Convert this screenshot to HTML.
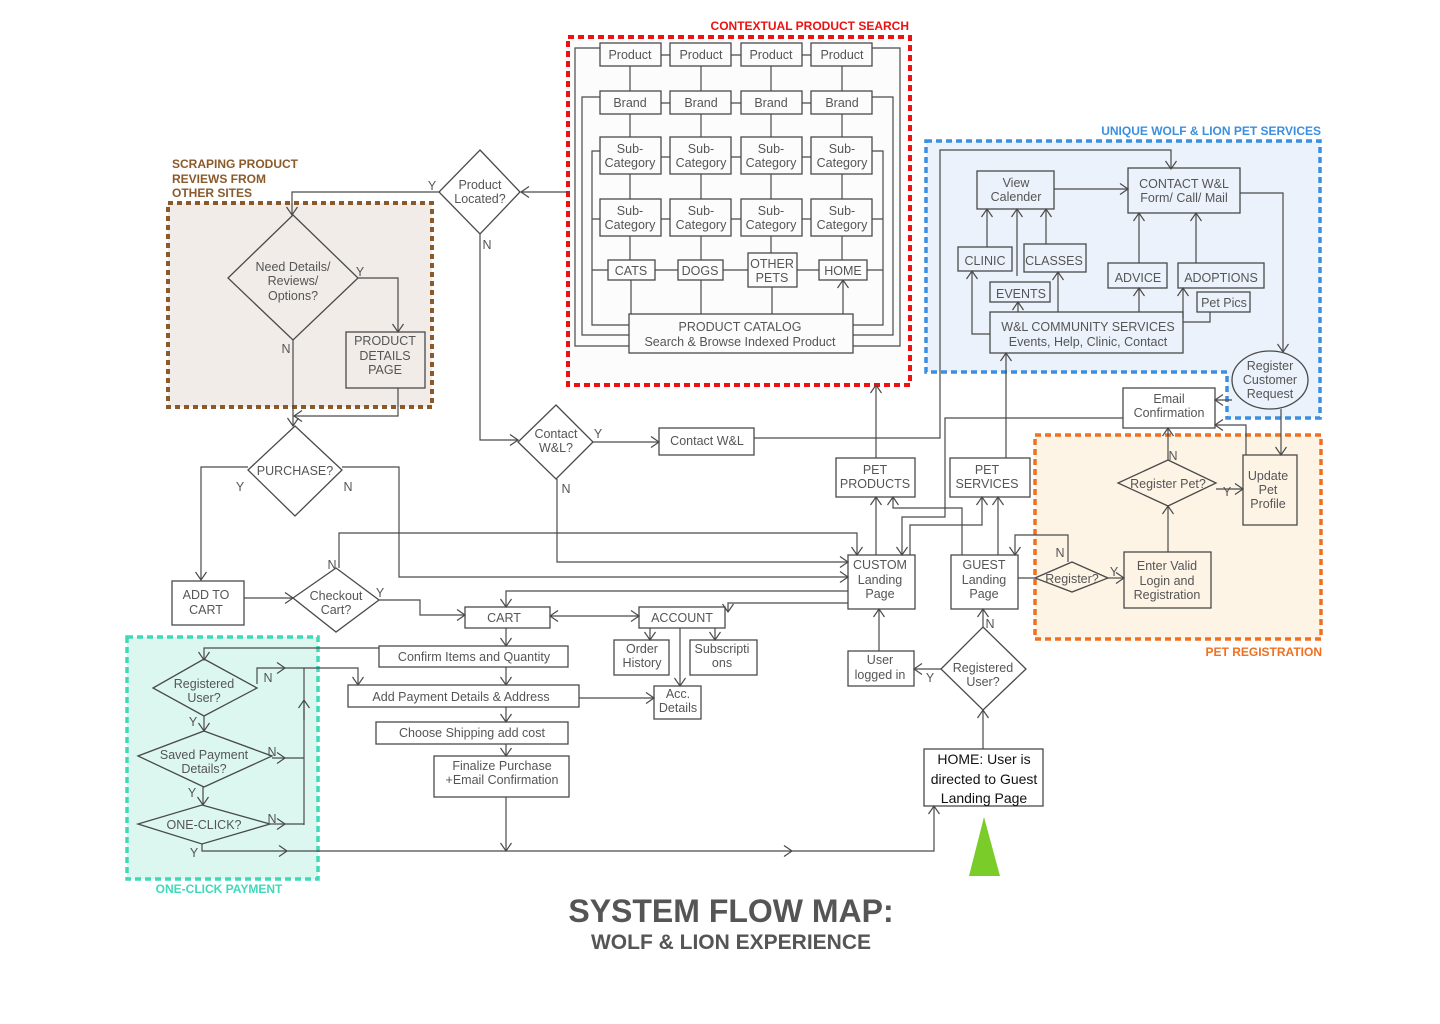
<!DOCTYPE html>
<html><head><meta charset="utf-8"><style>
html,body{margin:0;padding:0;background:#fff;}
svg{display:block;font-family:"Liberation Sans",sans-serif;}
.l{fill:none;stroke:#4a4a4a;stroke-width:1.2;}
.b{fill:none;stroke:#4a4a4a;stroke-width:1.3;}
.a{marker-end:url(#ar);}
text{fill:#555;font-size:12.5px;text-anchor:middle;}
.lab{font-weight:bold;font-size:12px;text-anchor:start;}
</style></head><body>
<svg width="1440" height="1024" viewBox="0 0 1440 1024" xmlns="http://www.w3.org/2000/svg">
<defs><marker id="ar" markerUnits="userSpaceOnUse" markerWidth="14" markerHeight="14" refX="9" refY="6" orient="auto"><path d="M1,0.5 L9,6 L1,11.5" fill="none" stroke="#4a4a4a" stroke-width="1.2"/></marker></defs>

<!-- region boxes -->
<rect x="568" y="37" width="342" height="348" fill="#fdfcfc" stroke="#ee1111" stroke-width="4" stroke-dasharray="6,4"/>
<text x="909" y="30" style="fill:#ee1111;font-weight:bold;font-size:12px;text-anchor:end">CONTEXTUAL PRODUCT SEARCH</text>
<rect x="168" y="203" width="264" height="204" fill="#f1ece8" stroke="#8b5a2b" stroke-width="4" stroke-dasharray="5,4"/>
<text class="lab" x="172" y="168" style="fill:#8b5a2b">SCRAPING PRODUCT</text>
<text class="lab" x="172" y="183" style="fill:#8b5a2b">REVIEWS FROM</text>
<text class="lab" x="172" y="197" style="fill:#8b5a2b">OTHER SITES</text>
<path d="M926,141 H1320 V418 H1227 V372 H926 Z" fill="#ecf2fb" stroke="#3b8fe0" stroke-width="3.5" stroke-dasharray="6,4"/>
<text x="1321" y="135" style="fill:#3b8fe0;font-weight:bold;font-size:12px;text-anchor:end">UNIQUE WOLF &amp; LION PET SERVICES</text>
<rect x="1035" y="435" width="286" height="204" fill="#fdf4e6" stroke="#f07020" stroke-width="3.5" stroke-dasharray="6,4"/>
<text x="1322" y="656" style="fill:#f07020;font-weight:bold;font-size:12px;text-anchor:end">PET REGISTRATION</text>
<rect x="127" y="637" width="191" height="242" fill="#dcf7f0" stroke="#3fd9b8" stroke-width="3.5" stroke-dasharray="6,4"/>
<text x="219" y="893" style="fill:#3fd9b8;font-weight:bold;font-size:12px">ONE-CLICK PAYMENT</text>

<!-- product search grid -->
<g>
<path class="l" d="M600,48 H575 V346 H629 M600,97 H582 V335 H629 M600,151 H592 V325 H629 M592,219 H600 M592,270 H608"/>
<path class="l" d="M872,48 H900 V346 H853 M872,97 H893 V335 H853 M872,151 H883 V325 H853 M883,219 H872 M883,270 H867"/>
<path class="l" d="M661,55 H670 M731,55 H741 M802,55 H811 M661,103 H670 M731,103 H741 M802,103 H811 M661,157 H670 M731,157 H741 M802,157 H811 M661,219 H670 M731,219 H741 M802,219 H811 M655,270 H678 M723,270 H748 M797,270 H819"/>
<path class="l a" d="M630,91 V66 M701,91 V66 M771,91 V66 M842,91 V66 M630,137 V114 M701,137 V114 M771,137 V114 M842,137 V114 M630,199 V174 M701,199 V174 M771,199 V174 M842,199 V174 M630,260 V236 M701,260 V236 M771,253 V236 M842,260 V236 M631,314 V280 M701,314 V280 M772,314 V287 M843,314 V280"/>
<g class="b" fill="#fdfcfc">
<rect x="600" y="43" width="61" height="23" fill="#fdfcfc"/><rect x="670" y="43" width="61" height="23" fill="#fdfcfc"/><rect x="741" y="43" width="61" height="23" fill="#fdfcfc"/><rect x="811" y="43" width="61" height="23" fill="#fdfcfc"/>
<rect x="600" y="91" width="61" height="23" fill="#fdfcfc"/><rect x="670" y="91" width="61" height="23" fill="#fdfcfc"/><rect x="741" y="91" width="61" height="23" fill="#fdfcfc"/><rect x="811" y="91" width="61" height="23" fill="#fdfcfc"/>
<rect x="600" y="137" width="61" height="37" fill="#fdfcfc"/><rect x="670" y="137" width="61" height="37" fill="#fdfcfc"/><rect x="741" y="137" width="61" height="37" fill="#fdfcfc"/><rect x="811" y="137" width="61" height="37" fill="#fdfcfc"/>
<rect x="600" y="199" width="61" height="37" fill="#fdfcfc"/><rect x="670" y="199" width="61" height="37" fill="#fdfcfc"/><rect x="741" y="199" width="61" height="37" fill="#fdfcfc"/><rect x="811" y="199" width="61" height="37" fill="#fdfcfc"/>
<rect x="608" y="260" width="47" height="20" fill="#fdfcfc"/><rect x="678" y="260" width="45" height="20" fill="#fdfcfc"/><rect x="748" y="253" width="49" height="34" fill="#fdfcfc"/><rect x="819" y="260" width="48" height="20" fill="#fdfcfc"/>
<rect x="629" y="314" width="224" height="39" fill="#fdfcfc"/>
</g>
<text x="630" y="59">Product</text><text x="701" y="59">Product</text><text x="771" y="59">Product</text><text x="842" y="59">Product</text>
<text x="630" y="107">Brand</text><text x="701" y="107">Brand</text><text x="771" y="107">Brand</text><text x="842" y="107">Brand</text>
<text x="630" y="153">Sub-</text><text x="630" y="167">Category</text><text x="701" y="153">Sub-</text><text x="701" y="167">Category</text><text x="771" y="153">Sub-</text><text x="771" y="167">Category</text><text x="842" y="153">Sub-</text><text x="842" y="167">Category</text>
<text x="630" y="215">Sub-</text><text x="630" y="229">Category</text><text x="701" y="215">Sub-</text><text x="701" y="229">Category</text><text x="771" y="215">Sub-</text><text x="771" y="229">Category</text><text x="842" y="215">Sub-</text><text x="842" y="229">Category</text>
<text x="631" y="275">CATS</text><text x="700" y="275">DOGS</text><text x="772" y="268">OTHER</text><text x="772" y="282">PETS</text><text x="843" y="275">HOME</text>
<text x="740" y="331">PRODUCT CATALOG</text><text x="740" y="346">Search &amp; Browse Indexed Product</text>
</g>

<!-- left top flow -->
<path class="l a" d="M568,192 H521"/>
<path class="l a" d="M439,192 H292 V215"/>
<path class="l a" d="M480,234 V440 H518"/>
<polygon class="b" points="480,150 520,192 480,234 439,192" fill="#fff"/>
<text x="480" y="189">Product</text><text x="480" y="203">Located?</text>
<text x="432" y="190">Y</text><text x="487" y="249">N</text>

<path class="l a" d="M358,278 H398 V332"/>
<path class="l a" d="M293,340 V426"/>
<path class="l a" d="M398,388 V416 H294"/>
<polygon class="b" points="293,215 358,278 293,340 228,278"/>
<text x="293" y="271">Need Details/</text><text x="293" y="285">Reviews/</text><text x="293" y="300">Options?</text>
<text x="360" y="276">Y</text><text x="286" y="353">N</text>
<rect class="b" x="346" y="332" width="79" height="56"/>
<text x="385" y="345">PRODUCT</text><text x="385" y="360">DETAILS</text><text x="385" y="374">PAGE</text>

<path class="l a" d="M248,467 H201 V580"/>
<path class="l a" d="M342,467 H399 V577 H848"/>
<polygon class="b" points="295,426 342,470 295,516 248,470" fill="#fff"/>
<text x="295" y="475">PURCHASE?</text><text x="240" y="491">Y</text><text x="348" y="491">N</text>

<rect class="b" x="172" y="581" width="72" height="44"/>
<text x="206" y="599">ADD TO</text><text x="206" y="614">CART</text>
<path class="l a" d="M244,598 H293"/>
<path class="l a" d="M379,600 H420 V615 H465"/>
<path class="l a" d="M339,568 V533 H857 V555"/>
<polygon class="b" points="336,568 379,600 336,632 293,598" fill="#fff"/>
<text x="336" y="600">Checkout</text><text x="336" y="614">Cart?</text>
<text x="380" y="597">Y</text><text x="332" y="569">N</text>

<path class="l a" d="M593,442 H659"/>
<path class="l a" d="M557,479 V562 H848"/>
<polygon class="b" points="556,405 593,442 556,479 518,442" fill="#fff"/>
<text x="556" y="438">Contact</text><text x="556" y="452">W&amp;L?</text>
<text x="598" y="438">Y</text><text x="566" y="493">N</text>
<rect class="b" x="659" y="428" width="95" height="27"/>
<text x="707" y="445">Contact W&amp;L</text>
<path class="l a" d="M754,438 H940 V150 H1171 V169"/>

<!-- cart / checkout -->
<path class="l a" d="M848,591 H506 V607"/>
<path class="l a" d="M848,603 H728 V612"/>
<path class="l a" d="M594,616 H550"/><path class="l a" d="M594,616 H639"/>
<rect class="b" x="465" y="607" width="85" height="21" fill="#fff"/><text x="504" y="622">CART</text>
<rect class="b" x="639" y="607" width="86" height="21" fill="#fff"/><text x="682" y="622">ACCOUNT</text>
<path class="l a" d="M650,628 V640"/><path class="l a" d="M715,628 V640"/><path class="l a" d="M680,628 V686"/>
<rect class="b" x="614" y="640" width="55" height="35" fill="#fff"/><text x="642" y="653">Order</text><text x="642" y="667">History</text>
<rect class="b" x="690" y="640" width="67" height="35" fill="#fff"/><text x="722" y="653">Subscripti</text><text x="722" y="667">ons</text>
<rect class="b" x="654" y="686" width="47" height="33" fill="#fff"/><text x="678" y="698">Acc.</text><text x="678" y="712">Details</text>
<path class="l a" d="M506,628 V646"/><path class="l a" d="M506,667 V685"/><path class="l a" d="M506,707 V722"/><path class="l a" d="M506,744 V756"/><path class="l a" d="M506,797 V851"/>
<path class="l a" d="M579,698 H654"/>
<rect class="b" x="379" y="646" width="189" height="21" fill="#fff"/><text x="474" y="661">Confirm Items and Quantity</text>
<rect class="b" x="348" y="685" width="231" height="22" fill="#fff"/><text x="461" y="701">Add Payment Details &amp; Address</text>
<rect class="b" x="376" y="722" width="192" height="22" fill="#fff"/><text x="472" y="737">Choose Shipping add cost</text>
<rect class="b" x="434" y="756" width="135" height="41" fill="#fff"/><text x="502" y="770">Finalize Purchase</text><text x="502" y="784">+Email Confirmation</text>

<!-- one click -->
<path class="l a" d="M379,648 H204 V660"/>
<path class="l a" d="M257,684 V668 H285"/><path class="l a" d="M285,668 H358 V685"/>
<path class="l" d="M304,668 V825"/><path class="l a" d="M304,720 V700"/>
<path class="l a" d="M272,758 H285"/><path class="l" d="M285,758 H304"/>
<path class="l a" d="M270,824 H285"/><path class="l" d="M285,824 H304"/>
<path class="l a" d="M204,716 V731"/><path class="l a" d="M203,787 V805"/>
<path class="l a" d="M202,844 V851 H287"/><path class="l a" d="M287,851 H792"/><path class="l a" d="M792,851 H934 V806"/>
<polygon class="b" points="204,659 257,688 204,716 153,688"/>
<text x="204" y="688">Registered</text><text x="204" y="702">User?</text>
<polygon class="b" points="204,731 272,756 204,787 138,756"/>
<text x="204" y="759">Saved Payment</text><text x="204" y="773">Details?</text>
<polygon class="b" points="202,805 270,824 202,844 138,824"/>
<text x="204" y="829">ONE-CLICK?</text>
<text x="268" y="682">N</text><text x="193" y="726">Y</text><text x="272" y="756">N</text><text x="192" y="797">Y</text><text x="272" y="823">N</text><text x="194" y="857">Y</text>

<!-- center right -->
<path class="l a" d="M876,458 V385"/>
<path class="l a" d="M876,555 V497"/>
<path class="l a" d="M910,555 V525 H982 V497"/>
<path class="l a" d="M1123,418 H945 V517 H902 V555"/>
<path class="l a" d="M962,555 V508 H893 V497"/>
<path class="l a" d="M998,555 V497"/>
<path class="l a" d="M1006,458 V353"/>
<rect class="b" x="836" y="458" width="79" height="39" fill="#fff"/><text x="875" y="474">PET</text><text x="875" y="488">PRODUCTS</text>
<rect class="b" x="950" y="458" width="80" height="39" fill="#fff"/><text x="987" y="474">PET</text><text x="987" y="488">SERVICES</text>
<rect class="b" x="848" y="555" width="67" height="54" fill="#fff"/><text x="880" y="569">CUSTOM</text><text x="880" y="584">Landing</text><text x="880" y="598">Page</text>
<rect class="b" x="951" y="555" width="67" height="54" fill="#fff"/><text x="984" y="569">GUEST</text><text x="984" y="584">Landing</text><text x="984" y="598">Page</text>
<path class="l a" d="M879,651 V609"/>
<rect class="b" x="848" y="651" width="66" height="35" fill="#fff"/><text x="880" y="664">User</text><text x="880" y="679">logged in</text>
<path class="l a" d="M941,669 H914"/>
<path class="l a" d="M983,627 V609"/>
<path class="l a" d="M983,749 V710"/>
<polygon class="b" points="983,627 1026,669 983,710 941,669" fill="#fff"/>
<text x="983" y="672">Registered</text><text x="983" y="686">User?</text>
<text x="930" y="682">Y</text><text x="990" y="628">N</text>
<rect class="b" x="924" y="749" width="119" height="57" fill="#fff"/>
<text x="984" y="764" style="fill:#111;font-size:14px">HOME: User is</text>
<text x="984" y="784" style="fill:#111;font-size:14px">directed to Guest</text>
<text x="984" y="803" style="fill:#111;font-size:14px">Landing Page</text>
<polygon points="984,817 1000,876 969,876" fill="#7acc29"/>

<!-- services -->
<path class="l a" d="M1054,189 H1128"/>
<path class="l a" d="M987,247 V209"/><path class="l a" d="M1017,276 V209"/><path class="l a" d="M1046,244 V209"/>
<path class="l a" d="M990,334 H972 V271"/><path class="l a" d="M1018,312 V302"/><path class="l a" d="M1058,312 V272"/>
<path class="l a" d="M1139,312 V288"/><path class="l a" d="M1139,263 V213"/><path class="l a" d="M1196,263 V213"/>
<path class="l a" d="M1183,318 V288"/><path class="l" d="M1183,322 H1210 V312"/>
<path class="l a" d="M1240,193 H1283 V352"/>
<rect class="b" x="977" y="171" width="77" height="38"/><text x="1016" y="187">View</text><text x="1016" y="201">Calender</text>
<rect class="b" x="1128" y="168" width="112" height="45"/><text x="1184" y="188">CONTACT W&amp;L</text><text x="1184" y="202">Form/ Call/ Mail</text>
<rect class="b" x="958" y="247" width="54" height="24"/><text x="985" y="265">CLINIC</text>
<rect class="b" x="1024" y="244" width="62" height="28"/><text x="1054" y="265">CLASSES</text>
<rect class="b" x="990" y="282" width="60" height="20"/><text x="1021" y="298">EVENTS</text>
<rect class="b" x="1108" y="263" width="59" height="25"/><text x="1138" y="282">ADVICE</text>
<rect class="b" x="1178" y="263" width="86" height="25"/><text x="1221" y="282">ADOPTIONS</text>
<rect class="b" x="1197" y="292" width="53" height="20"/><text x="1224" y="307">Pet Pics</text>
<rect class="b" x="990" y="312" width="193" height="41" fill="#ecf2fb"/><text x="1088" y="331">W&amp;L COMMUNITY SERVICES</text><text x="1088" y="346">Events, Help, Clinic, Contact</text>

<!-- registration -->
<path class="l a" d="M1232,400 H1215"/>
<path class="l a" d="M1281,409 V455"/>
<path class="l a" d="M1246,455 V425 H1215"/>
<path class="l a" d="M1168,460 V428"/>
<path class="l a" d="M1216,489 H1243"/>
<path class="l a" d="M1168,552 V506"/>
<path class="l a" d="M1108,578 H1124"/>
<path class="l" d="M1018,578 H1035"/>
<path class="l a" d="M1068,562 V535 H1015 V555"/>
<ellipse class="b" cx="1270" cy="380" rx="38" ry="29" fill="#ecf2fb"/>
<text x="1270" y="370">Register</text><text x="1270" y="384">Customer</text><text x="1270" y="398">Request</text>
<rect class="b" x="1123" y="388" width="92" height="40" fill="#fff"/><text x="1169" y="403">Email</text><text x="1169" y="417">Confirmation</text>
<rect class="b" x="1243" y="455" width="54" height="70"/><text x="1268" y="480">Update</text><text x="1268" y="494">Pet</text><text x="1268" y="508">Profile</text>
<polygon class="b" points="1168,460 1216,483 1168,506 1118,483"/>
<text x="1168" y="488">Register Pet?</text><text x="1173" y="460">N</text><text x="1227" y="496">Y</text>
<rect class="b" x="1124" y="552" width="87" height="56"/><text x="1167" y="570">Enter Valid</text><text x="1167" y="585">Login and</text><text x="1167" y="599">Registration</text>
<polygon class="b" points="1072,562 1108,578 1072,592 1035,578"/>
<text x="1072" y="583">Register?</text><text x="1060" y="557">N</text><text x="1114" y="576">Y</text>

<text x="731" y="922" style="fill:#555;font-weight:bold;font-size:32px">SYSTEM FLOW MAP:</text>
<text x="731" y="949" style="fill:#555;font-weight:bold;font-size:21px">WOLF &amp; LION EXPERIENCE</text>
</svg>
</body></html>
